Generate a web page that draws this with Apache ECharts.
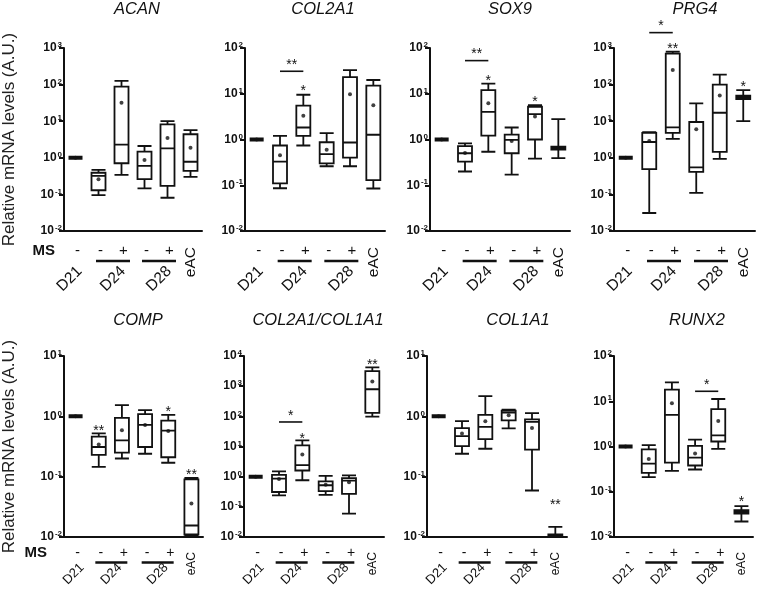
<!DOCTYPE html>
<html>
<head>
<meta charset="utf-8">
<script src="https://cdn.jsdelivr.net/npm/echarts@6/dist/echarts.min.js"></script>
<style>
  html, body { margin: 0; padding: 0; background: #fff; }
  #chart { width: 760px; height: 595px; }
</style>
</head>
<body>
<div id="chart"></div>
<script>
// categories and the MS row under the x axis
const categories = ['D21', 'D24-', 'D24+', 'D28-', 'D28+', 'eAC']
const msSigns = ['-', '-', '+', '-', '+']
const groups = [[0, 0, 'D21'], [1, 2, 'D24'], [3, 4, 'D28'], [5, 5, 'eAC']]

// boxes: [min, Q1, median, Q3, max]
const acanBox = [[1, 1, 1, 1, 1], [0.096, 0.13, 0.32, 0.39, 0.47], [0.34, 0.71, 2.3, 88, 126], [0.147, 0.26, 0.6, 1.47, 2.1], [0.081, 0.17, 1.82, 8.2, 10], [0.3, 0.44, 0.78, 4.4, 5.7]]
const acanMean = [1, 0.26, 32, 0.87, 3.5, 1.89]
const acanSig = []

const col2a1Box = [[1, 1, 1, 1, 1], [0.086, 0.11, 0.33, 0.74, 1.2], [0.74, 1.2, 1.83, 5.5, 9.5], [0.26, 0.3, 0.48, 0.87, 1.38], [0.26, 0.4, 0.86, 23, 33], [0.085, 0.13, 1.27, 15, 20]]
const col2a1Mean = [1, 0.45, 3.3, 0.6, 9.8, 5.6]
const col2a1Sig = [[1, 2, 31, '**'], [2, 2, 13, '*']]

const sox9Box = [[1, 1, 1, 1, 1], [0.2, 0.33, 0.5, 0.72, 0.82], [0.54, 1.22, 4.0, 12, 16.6], [0.17, 0.5, 0.98, 1.28, 1.83], [0.38, 1.0, 3.6, 5.2, 5.6], [0.39, 0.6, 0.64, 0.7, 2.8]]
const sox9Mean = [1, 0.51, 6.2, 0.93, 3.2, 0.64]
const sox9Sig = [[1, 2, 53, '**'], [2, 2, 22, '*'], [4, 4, 7.5, '*']]

const prg4Box = [[1, 1, 1, 1, 1], [0.031, 0.49, 2.7, 4.8, 5.0], [3.3, 4.8, 6.8, 706, 800], [0.11, 0.41, 0.55, 9.5, 30.6], [0.94, 1.46, 17, 100, 187], [10, 40, 45, 50, 71]]
const prg4Mean = [1, 2.86, 250, 6, 50, 45]
const prg4Sig = [[1, 2, 2630, '*'], [2, 2, 1140, '**'], [5, 5, 100, '*']]

const compBox = [[1, 1, 1, 1, 1], [0.145, 0.23, 0.31, 0.46, 0.52], [0.2, 0.25, 0.4, 0.94, 1.53], [0.24, 0.31, 0.72, 1.09, 1.27], [0.17, 0.21, 0.58, 0.85, 1.06], [0.0102, 0.011, 0.0155, 0.09, 0.095]]
const compMean = [1, 0.34, 0.59, 0.72, 0.57, 0.036]
const compSig = [[1, 1, 0.63, '**'], [4, 4, 1.32, '*'], [5, 5, 0.12, '**']]

const ratioBox = [[1, 1, 1, 1, 1], [0.24, 0.31, 0.86, 1.15, 1.5], [0.76, 1.6, 2.4, 10.9, 16], [0.25, 0.33, 0.52, 0.7, 1.07], [0.06, 0.27, 0.74, 0.9, 1.1], [98, 131, 790, 3150, 4200]]
const ratioMean = [1, 0.84, 5.4, 0.54, 0.65, 1420]
const ratioSig = [[1, 2, 65, '*'], [2, 2, 22, '*'], [5, 5, 6500, '**']]

const col1a1Box = [[1, 1, 1, 1, 1], [0.24, 0.32, 0.47, 0.64, 0.83], [0.29, 0.42, 0.67, 1.06, 2.16], [0.63, 0.86, 1.15, 1.24, 1.29], [0.059, 0.28, 0.81, 0.89, 1.13], [0.01, 0.0101, 0.0105, 0.011, 0.0147]]
const col1a1Mean = [1, 0.52, 0.83, 1.04, 0.64, 0.0105]
const col1a1Sig = [[5, 5, 0.038, '**']]

const runx2Box = [[1, 1, 1, 1, 1], [0.21, 0.26, 0.42, 0.86, 1.07], [0.29, 0.44, 5.0, 18, 26], [0.31, 0.38, 0.57, 1.03, 1.42], [0.89, 1.29, 1.77, 6.7, 11.2], [0.022, 0.033, 0.036, 0.039, 0.048]]
const runx2Mean = [1, 0.53, 9.0, 0.7, 3.65, 0.036]
const runx2Sig = [[3, 4, 16.6, '*'], [5, 5, 0.067, '*']]

const FONT = "'Liberation Sans', Arial, sans-serif"
const INK = '#111'
const Y_MIN = 0.01

// layout of the two rows
const rows = [
  { top: 48, height: 183, titleY: 1, signDy: 20, lineDy: 30, lineHalf: 17, labelDy: 48, eacDy: 16, font: 15.5, signFont: 15, eacFont: 15.5, singleDx: -6, pairDx: 3, msX: 55 },
  { top: 356, height: 181, titleY: 312, signDy: 16, lineDy: 25.5, lineHalf: 16, labelDy: 37, eacDy: 15, font: 13, signFont: 14, eacFont: 12, singleDx: -2, pairDx: 1, msX: 47 }
]

const panels = [
  { title: 'ACAN', box: acanBox, mean: acanMean, sig: acanSig, max: 1000, row: 0, left: 64, width: 138, titleX: 137 },
  { title: 'COL2A1', box: col2a1Box, mean: col2a1Mean, sig: col2a1Sig, max: 100, row: 0, left: 245, width: 140, titleX: 323 },
  { title: 'SOX9', box: sox9Box, mean: sox9Mean, sig: sox9Sig, max: 100, row: 0, left: 430, width: 140, titleX: 510 },
  { title: 'PRG4', box: prg4Box, mean: prg4Mean, sig: prg4Sig, max: 1000, row: 0, left: 614, width: 141, titleX: 695 },
  { title: 'COMP', box: compBox, mean: compMean, sig: compSig, max: 10, row: 1, left: 62, width: 141, titleX: 138 },
  { title: 'COL2A1/COL1A1', box: ratioBox, mean: ratioMean, sig: ratioSig, max: 10000, row: 1, left: 244, width: 140, titleX: 318 },
  { title: 'COL1A1', box: col1a1Box, mean: col1a1Mean, sig: col1a1Sig, max: 10, row: 1, left: 427, width: 140, titleX: 518 },
  { title: 'RUNX2', box: runx2Box, mean: runx2Mean, sig: runx2Sig, max: 100, row: 1, left: 614, width: 139, titleX: 697 }
]

const grids = []
const xAxes = []
const yAxes = []
const titles = []
const series = []

const makeSigRender = (sig) => (params, api) => {
  const s = sig[params.dataIndex]
  const a = api.coord([s[0], s[2]])
  const b = api.coord([s[1], s[2]])
  const cx = (a[0] + b[0]) / 2
  const children = []
  const textStyle = { fill: INK, fontSize: 14, fontFamily: FONT, align: 'center', verticalAlign: 'middle' }
  if (b[0] > a[0]) {
    children.push({ type: 'line', shape: { x1: a[0], y1: a[1], x2: b[0], y2: a[1] }, style: { stroke: INK, lineWidth: 1.6 } })
    children.push({ type: 'text', x: cx, y: a[1] - 6, style: Object.assign({ text: s[3] }, textStyle) })
  } else {
    children.push({ type: 'text', x: cx, y: a[1] + 3, style: Object.assign({ text: s[3] }, textStyle) })
  }
  return { type: 'group', children }
}

const makeLabelRender = (row) => (params, api) => {
  const g = groups[params.dataIndex]
  const p0 = api.coord([g[0], Y_MIN])
  const p1 = api.coord([g[1], Y_MIN])
  const cx = (p0[0] + p1[0]) / 2
  const y0 = p0[1]
  const children = []
  for (let c = g[0]; c <= g[1]; c++) {
    if (c >= msSigns.length) continue
    const pc = api.coord([c, Y_MIN])
    children.push({ type: 'text', x: pc[0] + 2, y: y0 + row.signDy, style: { text: msSigns[c], fill: INK, fontSize: row.signFont, fontFamily: FONT, align: 'center', verticalAlign: 'middle' } })
  }
  if (g[1] > g[0]) {
    children.push({ type: 'line', shape: { x1: cx - row.lineHalf + row.pairDx, y1: y0 + row.lineDy, x2: cx + row.lineHalf + row.pairDx, y2: y0 + row.lineDy }, style: { stroke: INK, lineWidth: 2.5 } })
  }
  if (g[2] === 'eAC') {
    children.push({ type: 'text', x: cx, y: y0 + row.eacDy, rotation: Math.PI / 2, style: { text: g[2], fill: INK, fontSize: row.eacFont, fontFamily: FONT, align: 'right', verticalAlign: 'middle' } })
  } else {
    const dx = g[1] > g[0] ? row.pairDx : row.singleDx
    children.push({ type: 'text', x: cx + dx, y: y0 + row.labelDy, rotation: Math.PI / 4, style: { text: g[2], fill: INK, fontSize: row.font, fontFamily: FONT, align: 'center', verticalAlign: 'middle' } })
  }
  return { type: 'group', children }
}

panels.forEach((p, i) => {
  const row = rows[p.row]
  grids.push({ left: p.left, top: row.top, width: p.width, height: row.height })
  titles.push({
    text: p.title, left: p.titleX, top: row.titleY, textAlign: 'center', padding: 0,
    textStyle: { fontStyle: 'italic', fontWeight: 'normal', fontSize: 16.5, fontFamily: FONT, color: INK }
  })
  xAxes.push({
    gridIndex: i, type: 'category', data: categories,
    axisLine: { lineStyle: { color: INK, width: 2 } },
    axisTick: { show: false }, axisLabel: { show: false }
  })
  yAxes.push({
    gridIndex: i, type: 'log', logBase: 10, min: Y_MIN, max: p.max,
    name: i % 4 === 0 ? 'Relative mRNA levels (A.U.)' : '',
    nameLocation: 'middle', nameGap: 46,
    nameTextStyle: { fontSize: 17, fontFamily: FONT, color: '#222' },
    splitLine: { show: false },
    axisLine: { show: true, lineStyle: { color: INK, width: 2 } },
    axisTick: { show: true, length: 5, lineStyle: { color: INK, width: 2 } },
    axisLabel: {
      margin: 2,
      formatter: v => '{a|10}{b|' + Math.round(Math.log10(v)) + '}',
      rich: {
        a: { fontSize: 12, fontWeight: 'bold', fontFamily: FONT, color: INK, lineHeight: 14, verticalAlign: 'middle' },
        b: { fontSize: 8, fontWeight: 'bold', fontFamily: FONT, color: INK, lineHeight: 8, verticalAlign: 'top', padding: [0, 0, 0, 1] }
      }
    }
  })
  series.push({
    type: 'boxplot', xAxisIndex: i, yAxisIndex: i,
    boxWidth: [14, 14],
    itemStyle: { color: 'rgba(255,255,255,0)', borderColor: INK, borderWidth: 1.8 },
    emphasis: { disabled: true },
    data: p.box.map(v => v[0] === v[4] ? { value: v, itemStyle: { borderWidth: 4 } } : v)
  })
  series.push({
    type: 'scatter', xAxisIndex: i, yAxisIndex: i,
    symbol: 'circle', symbolSize: 4, itemStyle: { color: INK },
    data: p.mean.map((m, j) => [j, m])
  })
  series.push({
    type: 'custom', xAxisIndex: i, yAxisIndex: i, clip: false,
    renderItem: makeSigRender(p.sig),
    data: p.sig.map(s => [s[0], s[2]])
  })
  series.push({
    type: 'custom', xAxisIndex: i, yAxisIndex: i, clip: false,
    renderItem: makeLabelRender(row),
    data: groups.map(g => [g[0], Y_MIN])
  })
})

const chart = echarts.init(document.getElementById('chart'))
chart.setOption({
  animation: false,
  backgroundColor: '#fff',
  title: titles,
  grid: grids,
  xAxis: xAxes,
  yAxis: yAxes,
  series,
  graphic: rows.map(r => ({
    type: 'text', right: 760 - r.msX, top: r.top + r.height + r.signDy - 8,
    style: { text: 'MS', fill: INK, fontSize: 15, fontWeight: 'bold', fontFamily: FONT }
  }))
})
</script>
</body>
</html>
